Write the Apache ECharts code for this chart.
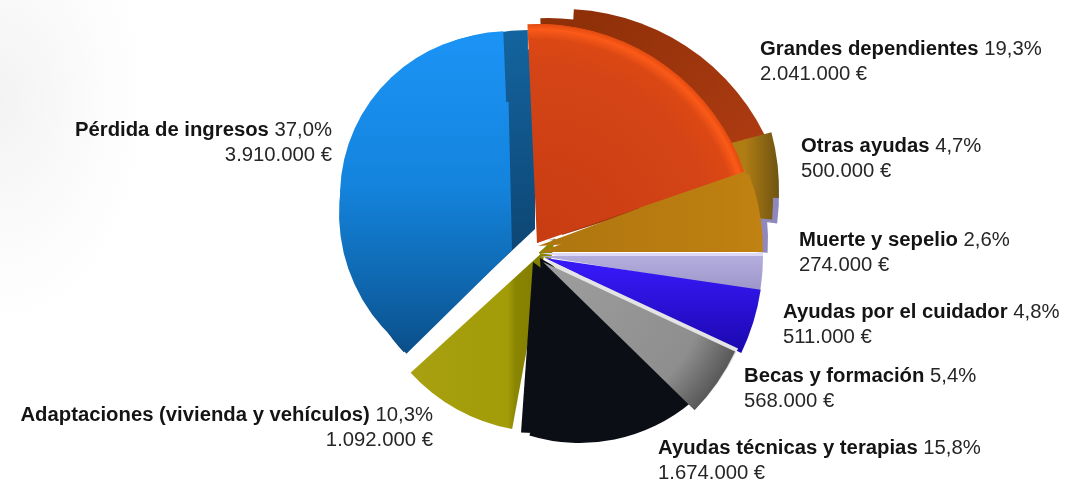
<!DOCTYPE html>
<html>
<head>
<meta charset="utf-8">
<title>Ayudas</title>
<script src="https://cdn.jsdelivr.net/npm/echarts@6/dist/echarts.min.js"></script>
<style>
html, body { margin: 0; padding: 0; background: #fff; }
body { background: radial-gradient(ellipse 150px 230px at 0 100px, #f3f3f3, #fcfcfc 70%, #fff); }
#main { width: 1065px; height: 481px; }
</style>
</head>
<body>
<div id="main"></div>
<script>
var categories = ['Grandes dependientes', 'Otras ayudas', 'Muerte y sepelio', 'Ayudas por el cuidador',
    'Becas y formación', 'Ayudas técnicas y terapias', 'Adaptaciones (vivienda y vehículos)', 'Pérdida de ingresos'];
var amounts = [2041000, 500000, 274000, 511000, 568000, 1674000, 1092000, 3910000];

var total = 0;
for (var i = 0; i < amounts.length; i++)
{
    total += amounts[i];
}

// where each label sits on the page
var labelSpots = [
    {x: 760, y: 62, align: 'left'},
    {x: 801, y: 159, align: 'left'},
    {x: 799, y: 253, align: 'left'},
    {x: 783, y: 325, align: 'left'},
    {x: 744, y: 389, align: 'left'},
    {x: 658, y: 461, align: 'left'},
    {x: 433, y: 428, align: 'right'},
    {x: 332, y: 143, align: 'right'}
];

function linear(x, y, x2, y2, stops)
{
    return new echarts.graphic.LinearGradient(x, y, x2, y2, stops, true);
}

function radial(x, y, r, stops)
{
    return new echarts.graphic.RadialGradient(x, y, r, stops, true);
}

function colorStops(list)
{
    return list.map(function (s)
    {
        return {offset: s[0], color: s[1]};
    });
}

// one slice of the pie, drawn alone, starting at angle "from" and going clockwise
function layer(idx, cx, cy, r, from, color)
{
    var before = 0;
    for (var i = 0; i < idx; i++)
    {
        before += amounts[i];
    }
    var start = (from + before / total * 360 + 720) % 360;
    return {
        type: 'pie',
        silent: true,
        clockwise: true,
        center: [cx, cy],
        radius: [0, r],
        startAngle: start,
        label: {show: false},
        labelLine: {show: false},
        emphasis: {disabled: true},
        data: categories.map(function (name, j)
        {
            return {
                name: name,
                value: amounts[j],
                itemStyle: j == idx ? {color: color, borderWidth: 0} : {color: 'rgba(0,0,0,0)', borderWidth: 0}
            };
        })
    };
}

var blueFace = linear(0, 40, 0, 360, colorStops([[0, '#1b93f5'], [0.45, '#1484dd'], [0.75, '#0f68b0'], [1, '#0a4c86']]));
var blueWall = linear(0, 30, 0, 250, colorStops([[0, '#14649f'], [1, '#0d4674']]));
var redFace = radial(537, 243, 219, colorStops([[0, '#c83c12'], [0.8, '#d44416'], [0.93, '#dc4814'], [0.975, '#fb5a18'], [1, '#e24a10']]));
var redRim = linear(600, 10, 760, 170, colorStops([[0, '#8f3009'], [1, '#b03c12']]));
var orangeFace = linear(540, 0, 765, 0, colorStops([[0, '#ae7610'], [0.8, '#bc7e10'], [1, '#c08212']]));
var orangeRim = linear(745, 0, 779, 0, colorStops([[0, '#b07c14'], [1, '#6e5412']]));
var lavender = linear(0, 256, 0, 292, colorStops([[0, '#b4aede'], [1, '#9c94c8']]));
var violet = linear(0, 270, 0, 350, colorStops([[0, '#3518f4'], [1, '#1c08b0']]));
var gray = radial(543, 262, 212, colorStops([[0, '#9e9e9e'], [0.8, '#8e8e8e'], [1, '#585858']]));
var olive = linear(412, 0, 535, 0, colorStops([[0, '#a8a010'], [0.78, '#a29c08'], [0.84, '#8a8602'], [1, '#848000']]));

var series = [
    // back walls
    layer(7, 528, 210, 180, 223.2, blueWall),
    layer(7, 535, 229, 180, 223.2, blueWall),
    layer(0, 548, 238, 220, 92, redRim),
    layer(0, 562, 235, 226, 87, redRim),
    layer(2, 556, 195, 223, 2, '#8f88bc'),
    layer(2, 547, 240, 221, 6, '#8f88bc'),
    layer(1, 556, 190, 223, 15, orangeRim),
    layer(1, 550, 200, 223, 12, orangeRim),
    // faces
    layer(7, 503, 196, 163, 223.2, blueFace),
    layer(7, 510, 196, 165, 225.5, blueFace),
    layer(7, 511, 213, 172, 232.7, blueFace),
    layer(7, 512, 250, 148, 224.5, blueFace),
    layer(6, 545, 250, 182, -100.4, olive),
    layer(6, 555, 238, 22, -100.4, '#8a8602'),
    layer(1, 540, 252, 223, 20.5, orangeFace),
    layer(1, 540, 252, 223, 17, orangeFace),
    layer(1, 538, 246, 220, 20.5, orangeFace),
    layer(0, 537, 243, 219, 92.5, redFace),
    layer(0, 537, 243, 219, 88.5, redFace),
    layer(5, 580, 270, 173, -50, '#0c0e16'),
    layer(5, 533, 262, 171, -37, '#0c0e16'),
    layer(5, 540, 258, 60, -30, '#0c0e16'),
    layer(2, 540, 253, 223, 0, '#dcd8f6'),
    layer(2, 540, 256, 223, 0, lavender),
    layer(3, 545, 258, 218, -8.4, violet),
    layer(4, 546, 259, 212, -25, '#e4e4e4'),
    layer(4, 543, 262, 212, -25, gray)
];

// labels only, the slices of this one are not painted
series.push({
    type: 'pie',
    silent: true,
    center: [537, 243],
    radius: [0, 219],
    startAngle: 90,
    itemStyle: {color: 'rgba(0,0,0,0)', borderWidth: 0},
    emphasis: {disabled: true},
    labelLine: {show: false},
    label: {
        show: true,
        position: 'outside',
        overflow: 'none',
        fontFamily: '"Liberation Sans", Arial, sans-serif',
        formatter: function (p)
        {
            var pct = (p.value / total * 100).toFixed(1).replace('.', ',');
            var money = String(p.value).replace(/\B(?=(\d{3})+$)/g, '.');
            return '{b|' + p.name + '}{n| ' + pct + '%}\n{n|' + money + ' €}';
        },
        rich: {
            b: {fontFamily: '"Liberation Sans", Arial, sans-serif', fontSize: 20.3, fontWeight: 'bold', color: '#141414', lineHeight: 25},
            n: {fontFamily: '"Liberation Sans", Arial, sans-serif', fontSize: 20.3, color: '#262626', lineHeight: 25}
        }
    },
    labelLayout: function (p)
    {
        var spot = labelSpots[p.dataIndex];
        return {x: spot.x, y: spot.y, align: spot.align, verticalAlign: 'middle'};
    },
    data: categories.map(function (name, j)
    {
        return {name: name, value: amounts[j]};
    })
});

var myChart = echarts.init(document.getElementById('main'), null, {renderer: 'canvas'});
myChart.setOption({
    animation: false,
    backgroundColor: 'transparent',
    tooltip: {show: false},
    series: series
});
</script>
</body>
</html>
